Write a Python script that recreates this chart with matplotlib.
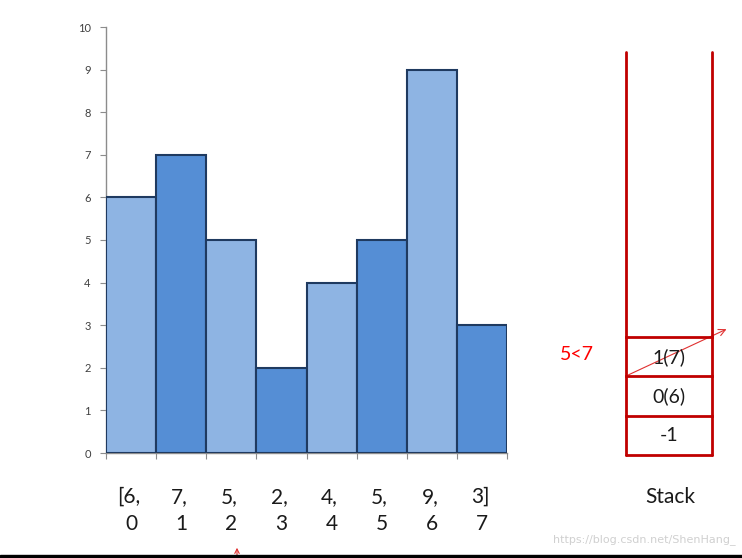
import numpy as np
from matplotlib import pyplot as plt
from matplotlib.patches import FancyArrowPatch

heights = [6, 7, 5, 2, 4, 5, 9, 3]
indices = [0, 1, 2, 3, 4, 5, 6, 7]
value_labels = ['[6,', '7,', '5,', '2,', '4,', '5,', '9,', '3]']
stack_items = ['-1', '0(6)', '1(7)']   # bottom to top
compare_text = '5<7'

light = '#8EB4E3'
dark = '#558ED5'
edge = '#1F3A60'
red = '#C00000'

plt.rcParams['font.family'] = ['Lato', 'DejaVu Sans']
W, H = 742, 558
fig = plt.figure(figsize=(W/100, H/100), dpi=100)

# bar axes, placed in pixel terms
x0, x1, y0, y1 = 106, 507, 453, 27
ax = fig.add_axes([x0/W, 1-y0/H, (x1-x0)/W, (y0-y1)/H])
colors = [light if i % 2 == 0 else dark for i in indices]
ax.bar(indices, heights, width=1.0, color=colors, edgecolor=edge, linewidth=1.5, zorder=3)
ax.set_xlim(-0.5, 7.5)
ax.set_ylim(0, 10)
ax.set_yticks(range(0, 11))
ax.set_xticks(np.arange(-0.5, 8.0, 1.0))
ax.set_xticklabels([])
for s in ['top', 'right']:
    ax.spines[s].set_visible(False)
for s in ['left', 'bottom']:
    ax.spines[s].set_color('#8C8C8C')
    ax.spines[s].set_linewidth(1.0)
ax.tick_params(axis='y', labelsize=8, colors='#8C8C8C', labelcolor='#404040', length=4, pad=7)
ax.tick_params(axis='x', colors='#8C8C8C', length=4)

# overlay in pixel coordinates for text and the stack
ov = fig.add_axes([0, 0, 1, 1])
ov.set_xlim(0, W)
ov.set_ylim(H, 0)
ov.axis('off')
ov.patch.set_alpha(0)

# array text under the bars, aligned to bar centres
for i, (v, idx) in enumerate(zip(value_labels, indices)):
    xp = ax.transData.transform((i, 0))[0]
    px = xp * W / fig.bbox.width
    ov.text(px - 2, 497, v, ha='center', va='center', fontsize=15, color='#1A1A1A')
    ov.text(px, 524, str(idx), ha='center', va='center', fontsize=15, color='#1A1A1A')

# stack
sl, sr, sb = 626, 712, 455
cell = 39.3
ov.plot([sl, sl], [52, sb], color=red, lw=2, solid_capstyle='round')
ov.plot([sr, sr], [52, sb], color=red, lw=2, solid_capstyle='round')
ov.plot([sl, sr], [sb, sb], color=red, lw=2, solid_capstyle='round')
for k, item in enumerate(stack_items):
    ytop = sb - (k + 1) * cell
    ov.plot([sl, sr], [ytop, ytop], color=red, lw=2)
    ov.text((sl+sr)/2, ytop + cell/2, item, ha='center', va='center', fontsize=14, color='#1A1A1A')
ov.text(670, 497, 'Stack', ha='center', va='center', fontsize=15, color='#1A1A1A')
ov.text(577, 354, compare_text, ha='center', va='center', fontsize=14, color='#FF0000')

ov.add_patch(FancyArrowPatch((sl, 376), (729, 328), arrowstyle='->', mutation_scale=12,
                             color='#E03030', lw=0.8))
ov.add_patch(FancyArrowPatch((237, 558), (237, 545), arrowstyle='->', mutation_scale=8,
                             color='#E03030', lw=0.8))

ov.text(736, 540, 'https://blog.csdn.net/ShenHang_', ha='right', va='center', fontsize=8,
        color='#D0D0D0', family=['DejaVu Sans'])
ov.axhspan(555, 558, color='black')

fig.savefig('out.png', dpi=100)
